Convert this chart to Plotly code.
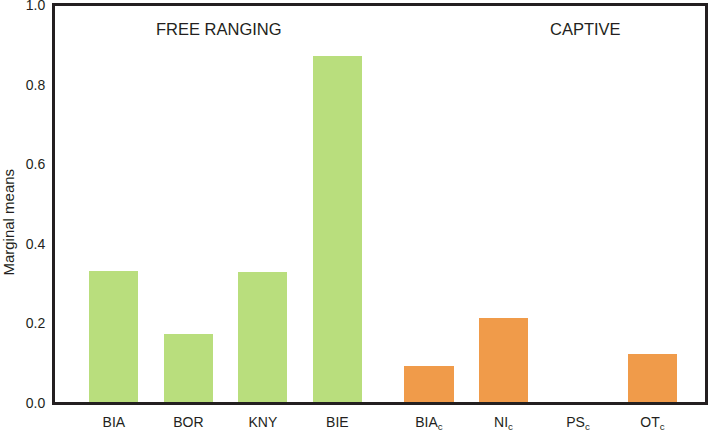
import plotly.graph_objects as go

# Data
free_labels = ["BIA", "BOR", "KNY", "BIE"]
free_values = [0.332, 0.173, 0.330, 0.872]
captive_labels = ["BIA<sub>c</sub>", "NI<sub>c</sub>", "PS<sub>c</sub>", "OT<sub>c</sub>"]
captive_values = [0.094, 0.213, 0.0, 0.124]
y_ticks = [0.0, 0.2, 0.4, 0.6, 0.8, 1.0]

GREEN = "#b9de7d"
ORANGE = "#f09b4a"
AXIS = "#231f20"
FONT = "Arial, Liberation Sans, sans-serif"

group_gap = 1.23  # distance between last free and first captive bar (in bar steps)
free_x = list(range(len(free_labels)))
captive_x = [free_x[-1] + group_gap + i for i in range(len(captive_labels))]

fig = go.Figure()
fig.add_trace(go.Bar(x=free_x, y=free_values, width=0.658,
                     marker=dict(color=GREEN, line=dict(width=0)), showlegend=False))
fig.add_trace(go.Bar(x=captive_x, y=captive_values, width=0.658,
                     marker=dict(color=ORANGE, line=dict(width=0)), showlegend=False))

fig.update_layout(
    width=708, height=430,
    margin=dict(l=54, r=2, t=5, b=27, autoexpand=False),
    paper_bgcolor="white", plot_bgcolor="white",
    font=dict(family=FONT, size=14, color="#231f20"),
    bargap=0,
    modebar=dict(bgcolor="rgba(0,0,0,0)", color="rgba(0,0,0,0)",
                 activecolor="rgba(0,0,0,0)"),
)
fig.update_xaxes(
    range=[-0.803, 7.948],
    tickvals=free_x + captive_x,
    ticktext=free_labels + captive_labels,
    ticks="outside", ticklen=5, tickcolor="rgba(0,0,0,0)",
    showgrid=False, zeroline=False, automargin=False,
    showline=True, linewidth=2, linecolor=AXIS, mirror=True,
    tickfont=dict(size=14),
)
fig.update_yaxes(
    range=[0, 1],
    tickvals=y_ticks, tickformat=".1f",
    ticks="outside", ticklen=4, tickcolor="rgba(0,0,0,0)",
    ticklabeloverflow="allow",
    showgrid=False, zeroline=False, automargin=False,
    showline=True, linewidth=2, linecolor=AXIS, mirror=True,
    tickfont=dict(size=14),
)
# explicit frame edges
for x0, y0, x1, y1 in [(0, 0, 0, 1), (0, 1, 1, 1), (1, 0, 1, 1), (0, 0, 1, 0)]:
    fig.add_shape(type="line", xref="paper", yref="paper", x0=x0, y0=y0, x1=x1, y1=y1,
                  line=dict(color=AXIS, width=2), layer="above")

fig.add_annotation(text="Marginal means", textangle=-90, xref="paper", yref="paper",
                   x=-0.0695, y=0.455, showarrow=False, font=dict(size=15),
                   xanchor="center", yanchor="middle")
fig.add_annotation(text="FREE RANGING", xref="x", yref="paper", x=1.405, y=0.94,
                   showarrow=False, font=dict(size=16.5), xanchor="center", yanchor="middle")
fig.add_annotation(text="CAPTIVE", xref="x", yref="paper", x=6.325, y=0.94,
                   showarrow=False, font=dict(size=16.5), xanchor="center", yanchor="middle")

fig.write_html("out.html",
               post_script="document.body.style.margin='0';document.body.style.overflow='hidden';"
                           "var s=document.createElement('style');"
                           "s.textContent='.modebar-container{display:none !important;}';"
                           "document.head.appendChild(s);")
